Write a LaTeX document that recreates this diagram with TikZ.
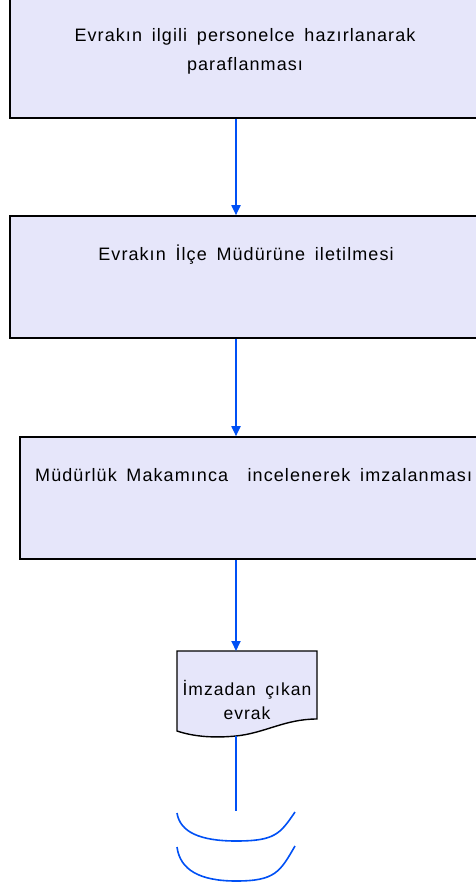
\documentclass[tikz,border=0pt]{standalone}
\usepackage{fontspec}
\setmainfont{Liberation Sans}[LetterSpace=6,WordSpace=1.6]
\usetikzlibrary{arrows.meta,positioning}
\definecolor{boxfill}{RGB}{230,230,250}
\definecolor{flowblue}{RGB}{0,80,245}
\tikzset{
  stepbox/.style={draw=black, line width=1.6pt, fill=boxfill, rectangle, inner sep=0pt, minimum height=122pt},
  steptext/.style={font=\fontsize{18}{29}\selectfont, align=center, inner sep=0pt},
  flow/.style={flowblue, line width=1.8pt, -{Triangle[width=9pt,length=10pt]}},
  plainflow/.style={flowblue, line width=1.6pt}
}
\begin{document}
\begin{tikzpicture}[x=1pt,y=-1pt]
  \useasboundingbox (0,0) rectangle (476,888);
  \clip (0,0) rectangle (476,888);
  \coordinate (axis) at (236,0); % common vertical line of the flow

  % Process boxes
  \node[stepbox, minimum width=472pt] (prep) at (246,57) {};
  \node[steptext] (preptext) at (245,51) {Evrakın ilgili personelce hazırlanarak\\paraflanması};

  \node[stepbox, minimum width=472pt] (send) at (246,277) {};
  \node[steptext] (sendtext) at (246,255) {Evrakın İlçe Müdürüne iletilmesi};

  \node[stepbox, minimum width=470pt] (sign) at (255,498) {};
  \node[steptext, anchor=west] (signtext) at (35,475) {Müdürlük Makamınca\ \ incelenerek imzalanması};

  % Document shape
  \draw[line width=1.4pt, fill=boxfill] (177,651) -- (317,651) -- (317,719)
    .. controls (285,719) and (265,733) .. (236,736)
    .. controls (215,738) and (195,737) .. (177,731) -- cycle;
  \node[steptext, font=\fontsize{17.5}{24}\selectfont] (doc) at (247,700) {İmzadan çıkan\\evrak};
  \coordinate (doctop) at (236,651);
  \coordinate (docbottom) at (236,736);
  \coordinate (tail) at (236,811);

  % Connectors
  \draw[flow] (prep.south -| axis) -- (send.north -| axis);
  \draw[flow] (send.south -| axis) -- (sign.north -| axis);
  \draw[flow] (sign.south -| axis) -- (doctop);
  \draw[plainflow] (docbottom) -- (tail);

  % Archive marks
  \draw[plainflow] (177,813) .. controls (180,832) and (200,841) .. (236,841)
    .. controls (275,841) and (280,834) .. (295,812);
  \draw[plainflow] (177,847) .. controls (180,870) and (200,881) .. (236,881)
    .. controls (275,881) and (280,872) .. (295,846);
\end{tikzpicture}
\end{document}
